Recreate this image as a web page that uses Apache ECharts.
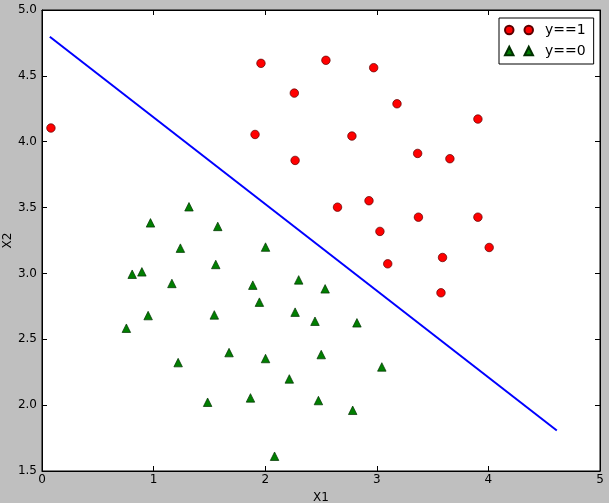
<!DOCTYPE html>
<html><head><meta charset="utf-8">
<script src="https://cdn.jsdelivr.net/npm/echarts@6/dist/echarts.min.js"></script>
<style>html,body{margin:0;padding:0;background:#bfbfbf}#c{width:609px;height:503px}</style>
</head><body><div id="c"></div>
<script>
const xTicks = [0, 1, 2, 3, 4, 5];
const yTicks = [1.5, 2.0, 2.5, 3.0, 3.5, 4.0, 4.5, 5.0];
const posX1 = [0.080,1.962,2.544,2.972,2.261,3.181,3.906,1.909,2.777,3.366,3.655,2.268,2.648,2.930,3.373,3.906,3.028,4.007,3.098,3.589,3.575];
const posX2 = [4.104,4.595,4.618,4.562,4.369,4.288,4.172,4.055,4.043,3.911,3.871,3.858,3.503,3.552,3.427,3.427,3.319,3.197,3.073,3.121,2.853];
const negX1 = [1.317,0.972,1.575,1.240,2.003,1.557,0.808,0.895,1.164,1.889,2.300,2.537,1.948,1.544,0.951,2.268,2.446,2.822,0.756,1.676,2.502,2.003,1.220,3.045,2.216,1.868,1.484,2.477,2.784,2.084];
const negX2 = [3.506,3.384,3.357,3.192,3.200,3.068,2.994,3.012,2.924,2.911,2.951,2.883,2.782,2.685,2.680,2.706,2.637,2.625,2.584,2.399,2.384,2.354,2.323,2.290,2.199,2.055,2.022,2.035,1.961,1.612];
const boundaryX1 = [0.07, 4.613];
const boundaryX2 = [4.797, 1.807];
const legendNames = ['y==1', 'y==0'];

const zip = (a, b) => a.map((v, i) => [v, b[i]]);
const font = 'DejaVu Sans';
const chart = echarts.init(document.getElementById('c'), null, {renderer: 'canvas'});
const axBase = {
  type: 'value', splitLine: {show: false},
  axisLine: {show: true, onZero: false, lineStyle: {color: '#000', width: 1}},
  axisTick: {show: true, inside: true, length: 5, lineStyle: {color: '#000'}}
};
chart.setOption({
  backgroundColor: '#bfbfbf',
  animation: false,
  grid: {left: 42, right: 9, top: 10, bottom: 32, show: true, backgroundColor: '#fff', borderColor: '#000', borderWidth: 1,
         containLabel: false, outerBoundsMode: 'none'},
  xAxis: [
    Object.assign({}, axBase, {min: 0, max: 5, interval: 1, position: 'bottom',
      name: 'X1', nameLocation: 'middle', nameGap: 21, nameMoveOverlap: false,
      nameTextStyle: {fontFamily: font, fontSize: 12, color: '#000'},
      axisLabel: {margin: 3, fontFamily: font, fontSize: 12, color: '#000', formatter: v => String(v)}}),
    Object.assign({}, axBase, {min: 0, max: 5, interval: 1, position: 'top', axisLabel: {show: false}})
  ],
  yAxis: [
    Object.assign({}, axBase, {min: 1.5, max: 5, interval: 0.5, position: 'left',
      name: 'X2', nameLocation: 'middle', nameGap: 28, nameMoveOverlap: false,
      nameTextStyle: {fontFamily: font, fontSize: 12, color: '#000'},
      axisLabel: {margin: 5, fontFamily: font, fontSize: 12, color: '#000', formatter: v => v.toFixed(1)}}),
    Object.assign({}, axBase, {min: 1.5, max: 5, interval: 0.5, position: 'right', axisLabel: {show: false}})
  ],
  legend: {
    left: 499, top: 18, orient: 'vertical',
    data: [
      {name: legendNames[0], icon: 'path://M0,4.25A4.25,4.25,0,1,1,8.5,4.25A4.25,4.25,0,1,1,0,4.25ZM19.5,4.25A4.25,4.25,0,1,1,28,4.25A4.25,4.25,0,1,1,19.5,4.25Z'},
      {name: legendNames[1], icon: 'path://M0,8.5L4.25,0L8.5,8.5ZM19.5,8.5L23.75,0L28,8.5Z'}
    ],
    itemWidth: 28, itemHeight: 8.5, itemGap: 7,
    padding: [5, 8, 6, 5],
    borderColor: '#000', borderWidth: 1, backgroundColor: '#fff', borderRadius: 0,
    textStyle: {fontFamily: font, fontSize: 14, color: '#000', lineHeight: 14, padding: [0, 0, 0, 7]}
  },
  series: [
    {type: 'line', data: zip(boundaryX1, boundaryX2), showSymbol: false, symbol: 'none',
     lineStyle: {color: '#0000ff', width: 2}, z: 1, silent: true},
    {name: legendNames[0], type: 'scatter', data: zip(posX1, posX2), symbol: 'circle', symbolSize: 8.5,
     itemStyle: {color: '#ff0000', borderColor: '#5a0000', borderWidth: 0.7, opacity: 1}, z: 3},
    {name: legendNames[1], type: 'scatter', data: zip(negX1, negX2), symbol: 'triangle', symbolSize: 8.5,
     itemStyle: {color: '#007f00', borderColor: '#003000', borderWidth: 0.7, opacity: 1}, z: 3}
  ]
});
</script></body></html>
